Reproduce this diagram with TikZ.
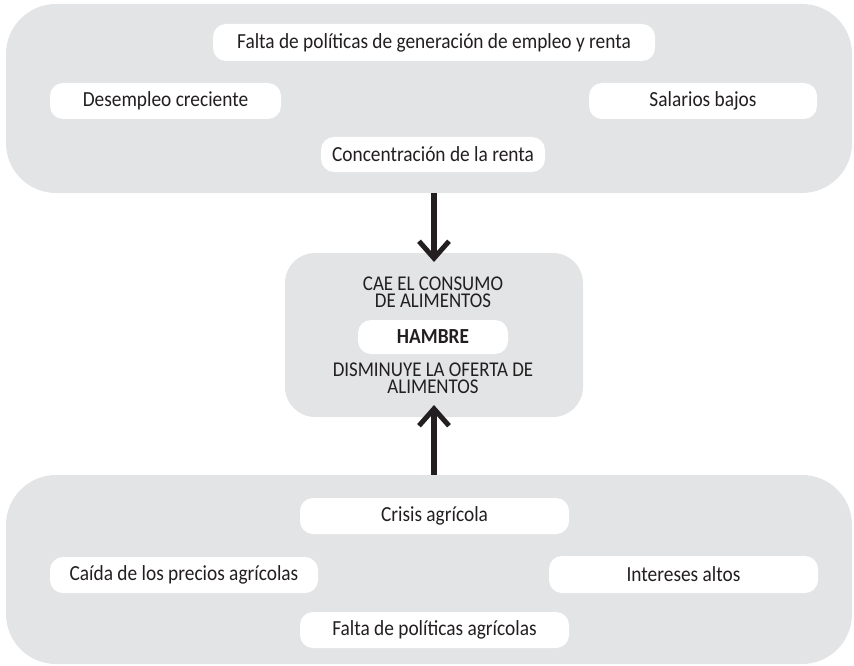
\documentclass[tikz,border=0pt]{standalone}
\usepackage{fontspec}
\setmainfont{Carlito}[FakeStretch=0.9]
\usetikzlibrary{arrows.meta}
\definecolor{panelgrey}{HTML}{E3E4E5}
\definecolor{inkc}{HTML}{231F20}
\tikzset{
  panel/.style={fill=panelgrey, draw=none, rounded corners=50pt, inner sep=0pt},
  midpanel/.style={fill=panelgrey, draw=none, rounded corners=30pt, inner sep=0pt},
  pill/.style={fill=white, draw=none, rounded corners=13pt, inner sep=0pt,
     text=inkc, font=\fontsize{21.5}{22}\selectfont, anchor=center},
  lbl/.style={text=inkc, font=\fontsize{21}{18}\selectfont, inner sep=0pt,
     text height=10pt, text depth=2pt}
}
\tikzset{
  bigarrow/.style={draw=inkc, line width=5.5pt,
     -{Straight Barb[length=17pt, width=30pt, line width=5pt]}}
}
\begin{document}
\begin{tikzpicture}[x=1pt, y=-1pt]
\useasboundingbox (0,0) rectangle (854,666);
% panels
\node[panel, minimum width=846pt, minimum height=189pt] (toppanel) at (429,98.5) {};
\node[panel, minimum width=846pt, minimum height=189pt] (botpanel) at (429,569.5) {};
\node[midpanel, minimum width=298pt, minimum height=164pt] (midpanel) at (434,335) {};
% top boxes
\node[pill, minimum width=442pt, minimum height=37pt] (falta) at (434,42.5) {Falta de políticas de generación de empleo y renta};
\node[pill, minimum width=231pt, minimum height=36pt] (desempleo) at (165.5,101) {Desempleo creciente};
\node[pill, minimum width=228pt, minimum height=36pt] (salarios) at (703,101) {Salarios bajos};
\node[pill, minimum width=224pt, minimum height=35pt] (concen) at (433,154.5) {Concentración de la renta};
% middle
\node[lbl] (cae1) at (433,286) {CAE EL CONSUMO};
\node[lbl] (cae2) at (433,303.5) {DE ALIMENTOS};
\node[pill, minimum width=150pt, minimum height=34pt, font=\fontsize{21.5}{22}\selectfont\bfseries] (hambre) at (433,337) {HAMBRE};
\node[lbl] (dism1) at (433,372) {DISMINUYE LA OFERTA DE};
\node[lbl] (dism2) at (433,389.5) {ALIMENTOS};
% bottom boxes
\node[pill, minimum width=269pt, minimum height=36pt] (crisis) at (434.5,516) {Crisis agrícola};
\node[pill, minimum width=268pt, minimum height=36pt] (caida) at (184,575) {Caída de los precios agrícolas};
\node[pill, minimum width=269pt, minimum height=37pt] (intereses) at (683.5,574.5) {Intereses altos};
\node[pill, minimum width=269pt, minimum height=36pt] (faltaagr) at (434.5,630) {Falta de políticas agrícolas};
% arrows
\coordinate (downstart) at (434,193);
\coordinate (downend) at (434,262);
\coordinate (upstart) at (434,475);
\coordinate (upend) at (434,405);
\draw[bigarrow] (downstart) -- (downend);
\draw[bigarrow] (upstart) -- (upend);
\end{tikzpicture}
\end{document}
